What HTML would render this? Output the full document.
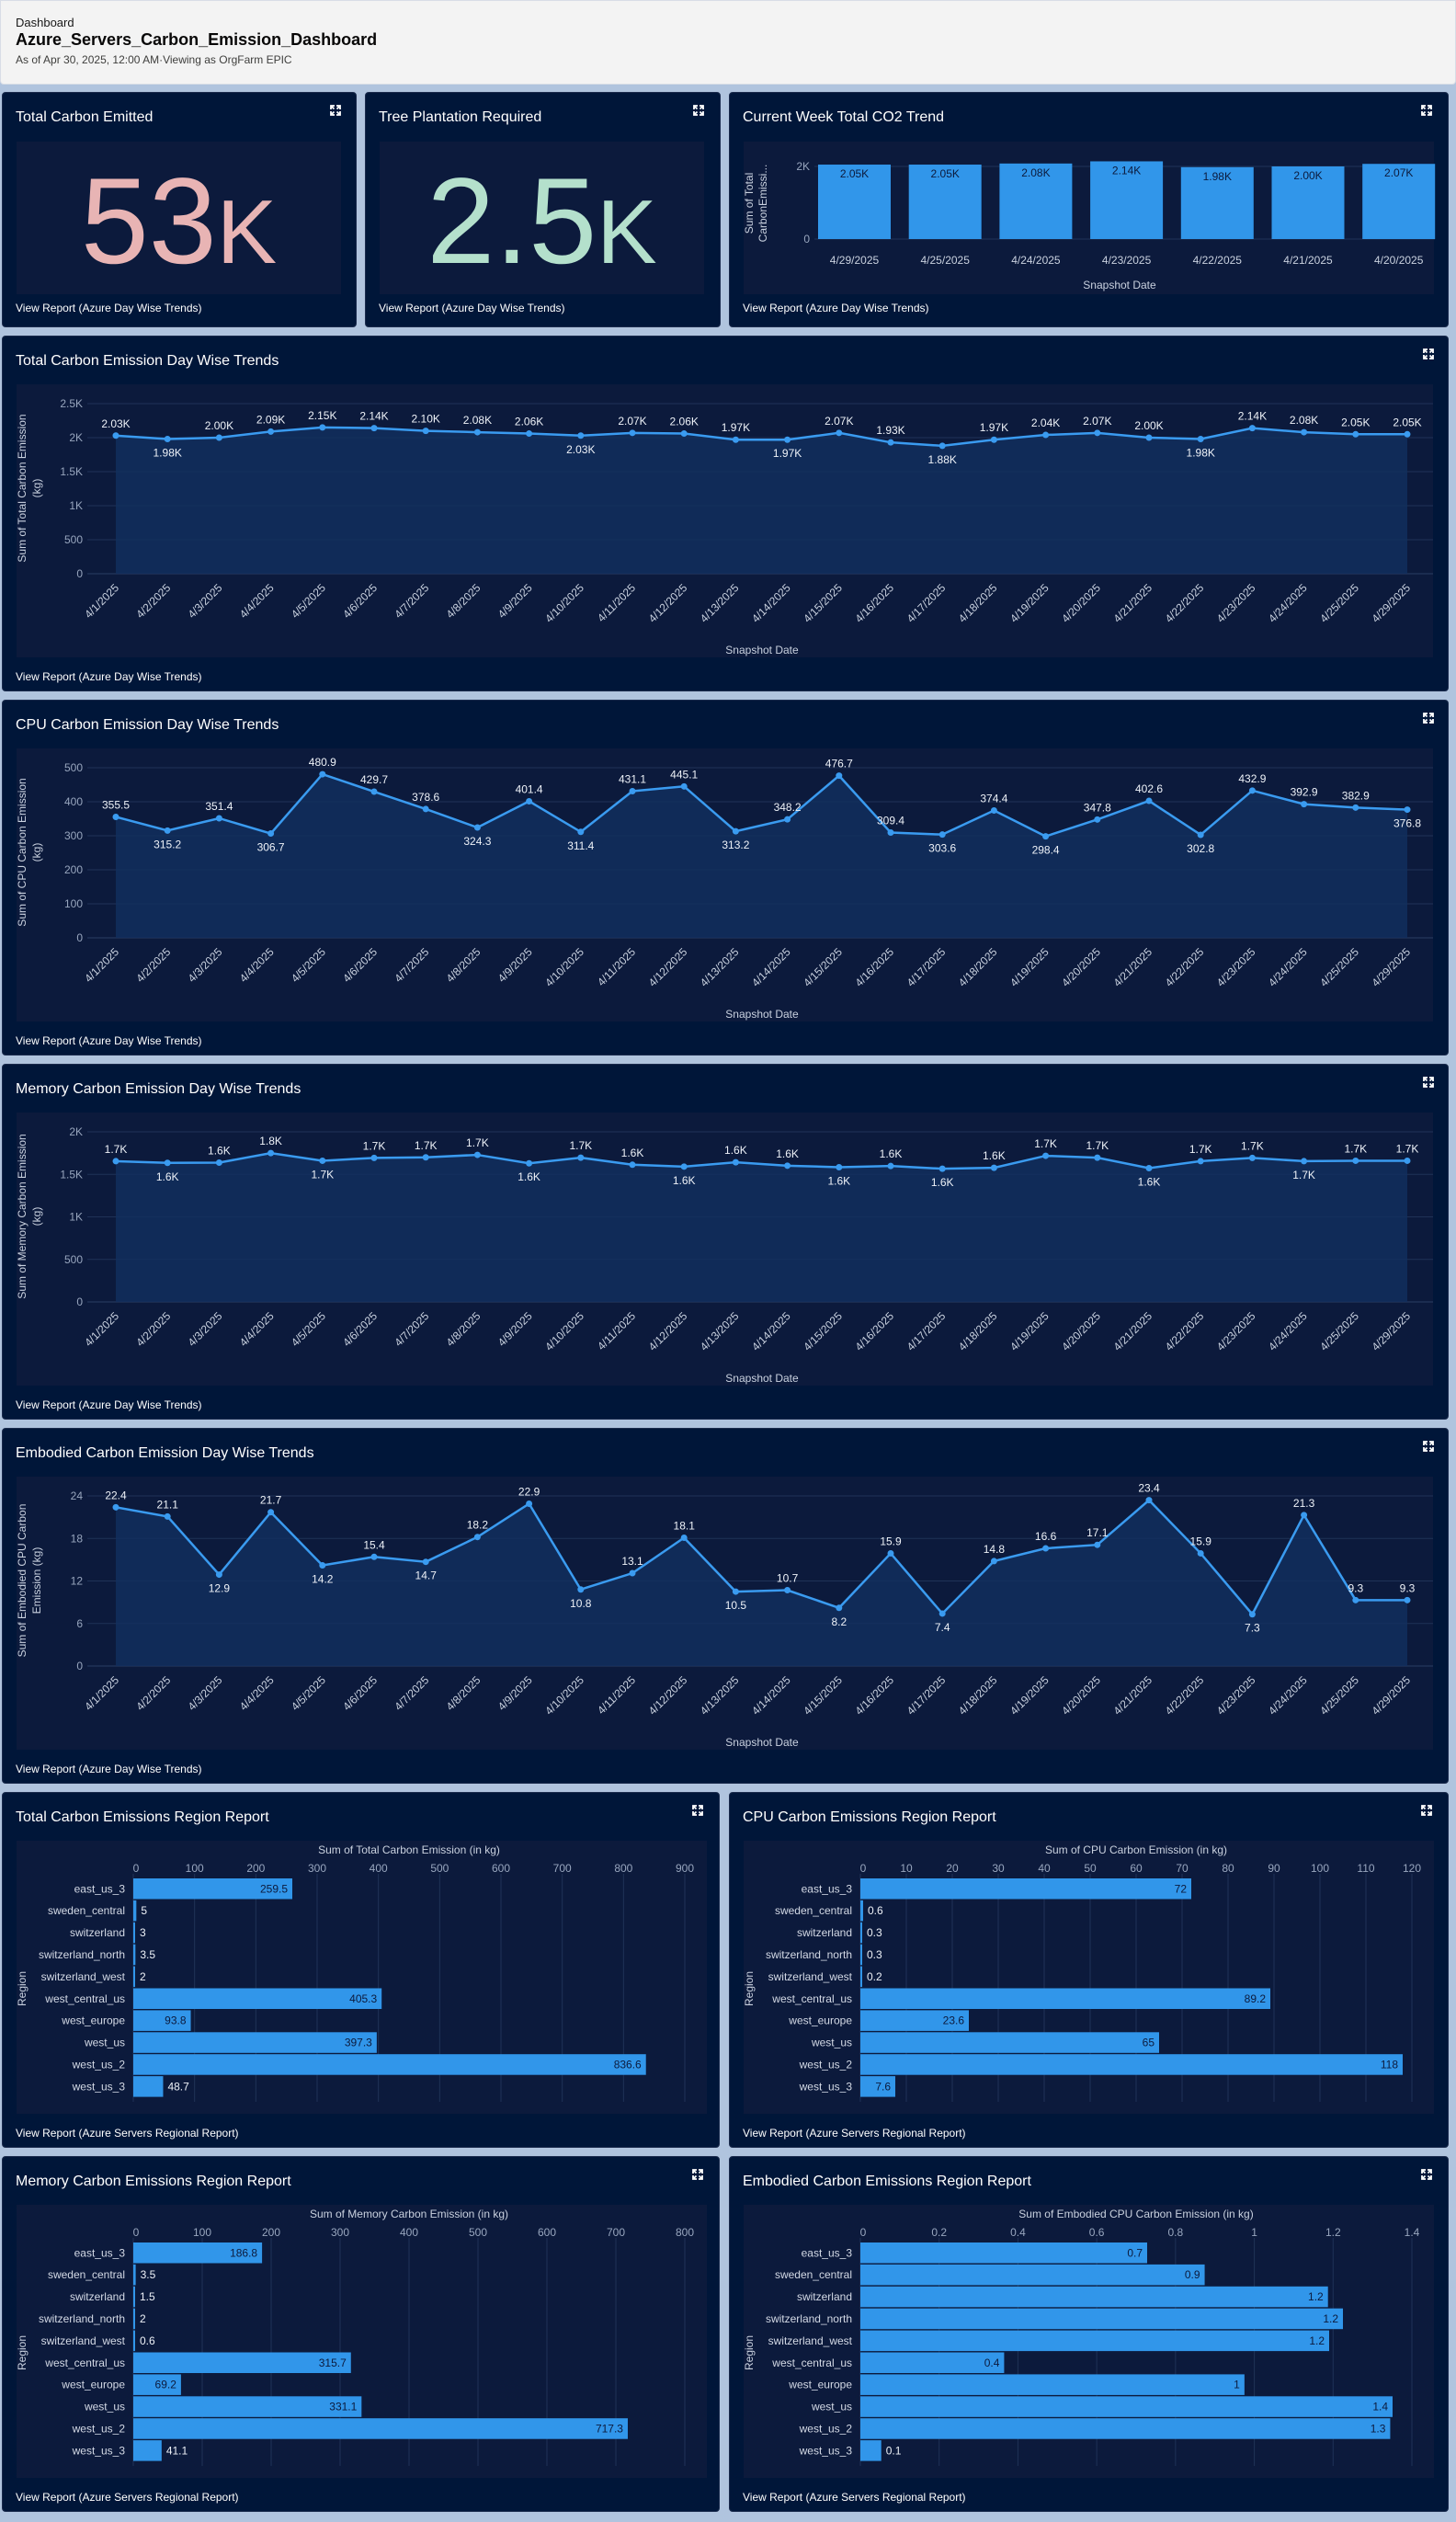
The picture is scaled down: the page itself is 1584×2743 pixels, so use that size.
<!DOCTYPE html>
<html><head><meta charset="utf-8"><title>Azure_Servers_Carbon_Emission_Dashboard</title>
<style>
*{box-sizing:border-box;margin:0;padding:0}
html,body{width:1584px;height:2743px;background:#b0c4de;font-family:"Liberation Sans",Arial,sans-serif;overflow:hidden;position:relative}
.header{position:absolute;left:0;top:0;width:1584px;height:92px;background:#f3f3f3;border:1px solid #d8dde6;border-radius:0 0 4px 4px}
.header .crumb{position:absolute;left:16px;top:16px;font-size:13px;color:#181818}
.header h1{position:absolute;left:16px;top:32px;font-size:18px;font-weight:bold;color:#080707}
.header .sub{position:absolute;left:16px;top:57px;font-size:12px;color:#3e3e3c}
.card{position:absolute;background:#001639;border-radius:4px;border:1px solid #1b2b4d}
.card .title{position:absolute;left:14px;top:18px;font-size:16px;color:#fff}
.card .report{position:absolute;left:14px;font-size:12px;color:#fff}
.card svg{position:absolute;left:0;top:0}
.panel{position:absolute;background:#0c1a3c}
.kpi{position:absolute;text-align:center;font-size:133px;line-height:1}
</style></head><body>
<div class="header">
  <div class="crumb">Dashboard</div>
  <h1>Azure_Servers_Carbon_Emission_Dashboard</h1>
  <div class="sub">As of Apr 30, 2025, 12:00 AM·Viewing as OrgFarm EPIC</div>
</div>

<div class="card" id="kpi1" style="left:2px;top:100px;width:386px;height:256px">
  <div class="title">Total Carbon Emitted</div>
  <div class="panel" style="left:15px;top:53px;width:353px;height:166px"></div>
  <div class="kpi" style="left:15px;top:74px;width:353px;color:#e8b4b4">53<span style="font-size:98px">K</span></div>
  <div class="report" style="top:227px">View Report (Azure Day Wise Trends)</div>
</div>
<div class="card" id="kpi2" style="left:397px;top:100px;width:387px;height:256px">
  <div class="title">Tree Plantation Required</div>
  <div class="panel" style="left:15px;top:53px;width:353px;height:166px"></div>
  <div class="kpi" style="left:15px;top:74px;width:353px;color:#b4e0cc">2.5<span style="font-size:98px">K</span></div>
  <div class="report" style="top:227px">View Report (Azure Day Wise Trends)</div>
</div>
<div class="card" id="week" style="left:793px;top:100px;width:783px;height:256px">
  <div class="title">Current Week Total CO2 Trend</div>
  <div class="panel" style="left:15px;top:53px;width:751px;height:166px"></div>
  <div class="report" style="top:227px">View Report (Azure Day Wise Trends)</div>
</div>

<div class="card" id="lineTotal" style="left:2px;top:365px;width:1574px;height:387px">
  <div class="title">Total Carbon Emission Day Wise Trends</div>
  <div class="panel" style="left:15px;top:52px;width:1541px;height:297px"></div>
  <div class="report" style="top:363px">View Report (Azure Day Wise Trends)</div>
</div>
<div class="card" id="lineCpu" style="left:2px;top:761px;width:1574px;height:387px">
  <div class="title">CPU Carbon Emission Day Wise Trends</div>
  <div class="panel" style="left:15px;top:52px;width:1541px;height:297px"></div>
  <div class="report" style="top:363px">View Report (Azure Day Wise Trends)</div>
</div>
<div class="card" id="lineMem" style="left:2px;top:1157px;width:1574px;height:387px">
  <div class="title">Memory Carbon Emission Day Wise Trends</div>
  <div class="panel" style="left:15px;top:52px;width:1541px;height:297px"></div>
  <div class="report" style="top:363px">View Report (Azure Day Wise Trends)</div>
</div>
<div class="card" id="lineEmb" style="left:2px;top:1553px;width:1574px;height:387px">
  <div class="title">Embodied Carbon Emission Day Wise Trends</div>
  <div class="panel" style="left:15px;top:52px;width:1541px;height:297px"></div>
  <div class="report" style="top:363px">View Report (Azure Day Wise Trends)</div>
</div>

<div class="card" id="regTotal" style="left:2px;top:1949px;width:781px;height:387px">
  <div class="title">Total Carbon Emissions Region Report</div>
  <div class="panel" style="left:15px;top:52px;width:751px;height:297px"></div>
  <div class="report" style="top:363px">View Report (Azure Servers Regional Report)</div>
</div>
<div class="card" id="regCpu" style="left:793px;top:1949px;width:783px;height:387px">
  <div class="title">CPU Carbon Emissions Region Report</div>
  <div class="panel" style="left:15px;top:52px;width:751px;height:297px"></div>
  <div class="report" style="top:363px">View Report (Azure Servers Regional Report)</div>
</div>
<div class="card" id="regMem" style="left:2px;top:2345px;width:781px;height:387px">
  <div class="title">Memory Carbon Emissions Region Report</div>
  <div class="panel" style="left:15px;top:52px;width:751px;height:297px"></div>
  <div class="report" style="top:363px">View Report (Azure Servers Regional Report)</div>
</div>
<div class="card" id="regEmb" style="left:793px;top:2345px;width:783px;height:387px">
  <div class="title">Embodied Carbon Emissions Region Report</div>
  <div class="panel" style="left:15px;top:52px;width:751px;height:297px"></div>
  <div class="report" style="top:363px">View Report (Azure Servers Regional Report)</div>
</div>

<script>
// ---------- data ----------
var weekDates = ["4/29/2025","4/25/2025","4/24/2025","4/23/2025","4/22/2025","4/21/2025","4/20/2025"];
var weekValues = [2050,2050,2080,2140,1980,2000,2070];
var weekTicks = ["0","2K"];

var dayDates = ["4/1/2025","4/2/2025","4/3/2025","4/4/2025","4/5/2025","4/6/2025","4/7/2025","4/8/2025","4/9/2025","4/10/2025","4/11/2025","4/12/2025","4/13/2025","4/14/2025","4/15/2025","4/16/2025","4/17/2025","4/18/2025","4/19/2025","4/20/2025","4/21/2025","4/22/2025","4/23/2025","4/24/2025","4/25/2025","4/29/2025"];
var totalValues = [2030,1980,2000,2090,2150,2140,2100,2080,2060,2030,2070,2060,1970,1970,2070,1930,1880,1970,2040,2070,2000,1980,2140,2080,2050,2050];
var totalTicks = ["0","500","1K","1.5K","2K","2.5K"];
var cpuValues = [355.5,315.2,351.4,306.7,480.9,429.7,378.6,324.3,401.4,311.4,431.1,445.1,313.2,348.2,476.7,309.4,303.6,374.4,298.4,347.8,402.6,302.8,432.9,392.9,382.9,376.8];
var cpuTicks = ["0","100","200","300","400","500"];
var memValues = [1655,1635,1638,1750,1660,1693,1700,1729,1630,1696,1613,1591,1642,1602,1584,1598,1566,1577,1718,1696,1573,1655,1693,1655,1660,1660];
var memTicks = ["0","500","1K","1.5K","2K"];
var embValues = [22.4,21.1,12.9,21.7,14.2,15.4,14.7,18.2,22.9,10.8,13.1,18.1,10.5,10.7,8.2,15.9,7.4,14.8,16.6,17.1,23.4,15.9,7.3,21.3,9.3,9.3];
var embTicks = ["0","6","12","18","24"];

var regions = ["east_us_3","sweden_central","switzerland","switzerland_north","switzerland_west","west_central_us","west_europe","west_us","west_us_2","west_us_3"];
var regTotalValues = [259.5,5,3,3.5,2,405.3,93.8,397.3,836.6,48.7];
var regTotalTicks = ["0","100","200","300","400","500","600","700","800","900"];
var regCpuValues = [72,0.6,0.3,0.3,0.2,89.2,23.6,65,118,7.6];
var regCpuTicks = ["0","10","20","30","40","50","60","70","80","90","100","110","120"];
var regMemValues = [186.8,3.5,1.5,2,0.6,315.7,69.2,331.1,717.3,41.1];
var regMemTicks = ["0","100","200","300","400","500","600","700","800"];
var regEmbValues = [0.728,0.874,1.187,1.225,1.19,0.365,0.975,1.351,1.345,0.053];
var regEmbTicks = ["0","0.2","0.4","0.6","0.8","1","1.2","1.4"];

// ---------- helpers ----------
var NS = "http://www.w3.org/2000/svg";
function mk(tag, parent){ var e = document.createElementNS(NS, tag); parent.appendChild(e); return e; }
function txt(parent, x, y, s, size, fill, anchor){
  var t = mk("text", parent);
  t.setAttribute("x", x); t.setAttribute("y", y);
  t.setAttribute("font-size", size); t.setAttribute("fill", fill);
  t.setAttribute("text-anchor", anchor || "start");
  t.setAttribute("font-family", "Liberation Sans, Arial, sans-serif");
  t.textContent = s;
  return t;
}
function svgFor(card){
  var s = mk("svg", card);
  s.setAttribute("width", card.offsetWidth); s.setAttribute("height", card.offsetHeight);
  
  
  return s;
}
function expandIcon(svg, x, y){
  var g = mk("g", svg);
  
  
  var p = mk("path", g);
  p.setAttribute("d", "M"+x+" "+(y+4)+"V"+y+"H"+(x+4)+" M"+(x+6)+" "+y+"H"+(x+10)+"V"+(y+4)+" M"+(x+10)+" "+(y+6)+"V"+(y+10)+"H"+(x+6)+" M"+(x+4)+" "+(y+10)+"H"+x+"V"+(y+6)+" M"+x+" "+y+"L"+(x+3.5)+" "+(y+3.5)+" M"+(x+10)+" "+y+"L"+(x+6.5)+" "+(y+3.5)+" M"+(x+10)+" "+(y+10)+"L"+(x+6.5)+" "+(y+6.5)+" M"+x+" "+(y+10)+"L"+(x+3.5)+" "+(y+6.5));
  p.setAttribute("stroke", "#fff"); p.setAttribute("stroke-width", "1.8"); p.setAttribute("fill", "none");
}
function fmtK(v, dec){ return (v/1000).toFixed(dec) + "K"; }

// ---------- line chart ----------
function lineChart(id, values, ticks, ymax, title1, title2, fmt){
  var card = document.getElementById(id);
  var svg = svgFor(card);
  expandIcon(svg, 1546, 14);
  var L = 92, R = 1556, yTop = 73, yZero = 258, x0 = 123, step = 56.2;
  function X(i){ return x0 + i*step; }
  function Y(v){ return yZero - v/ymax*(yZero-yTop); }
  var n = ticks.length;
  for (var k=0;k<n;k++){
    var gy = yZero - k/(n-1)*(yZero-yTop);
    var gl = mk("line", svg);
    gl.setAttribute("x1", L); gl.setAttribute("x2", R); gl.setAttribute("y1", gy); gl.setAttribute("y2", gy);
    gl.setAttribute("stroke", k==0 ? "#2a3d63" : "#1f3257"); gl.setAttribute("stroke-width", "1");
    
    
    var tl = txt(svg, 87, gy+4, ticks[k], 12, "#98a6be", "end");
    
    
  }
  var pts = values.map(function(v,i){ return X(i)+","+Y(v); });
  var area = mk("polygon", svg);
  area.setAttribute("points", X(0)+","+yZero+" "+pts.join(" ")+" "+X(values.length-1)+","+yZero);
  area.setAttribute("fill", "#12305f"); area.setAttribute("fill-opacity", "0.8");
  
  
  var line = mk("polyline", svg);
  line.setAttribute("points", pts.join(" "));
  line.setAttribute("fill", "none"); line.setAttribute("stroke", "#3a9bf0"); line.setAttribute("stroke-width", "2.5");
  
  
  values.forEach(function(v,i){
    var c = mk("circle", svg);
    c.setAttribute("cx", X(i)); c.setAttribute("cy", Y(v)); c.setAttribute("r", 3.5); c.setAttribute("fill", "#3a9bf0");
    
    
    var prev = i>0 ? values[i-1] : Infinity;
    var below;
    if (i === values.length-1) below = v < prev;
    else below = (v <= prev && v < values[i+1]);
    var lab = txt(svg, X(i), below ? Y(v)+19 : Y(v)-9, fmt(v), 12, "#eef2f8", "middle");
    
    
    var xl = txt(svg, 0, 0, dayDates[i], 12, "#c9d1df", "end");
    xl.setAttribute("transform", "translate("+(X(i)+4)+",274) rotate(-45)");
    
    
  });
  var xt = txt(svg, 826, 345, "Snapshot Date", 12, "#c9d1df", "middle");
  
  
  var yt = txt(svg, 0, 0, title1, 12, "#c9d1df", "middle");
  yt.setAttribute("transform", "translate(25,165) rotate(-90)");
  
  
  var yt2 = txt(svg, 0, 0, title2, 12, "#c9d1df", "middle");
  yt2.setAttribute("transform", "translate(41,165) rotate(-90)");
  
  
}

// ---------- horizontal bar chart ----------
function hbarChart(id, values, ticks, xmax, axisTitle){
  var card = document.getElementById(id);
  var svg = svgFor(card);
  expandIcon(svg, card.offsetWidth - 30, 14);
  var L = 142, R = 742, top = 93, band = 23.9, bh = 22.5;
  function X(v){ return L + v/xmax*(R-L); }
  var at = txt(svg, (L+R)/2, 66, axisTitle, 12, "#c9d1df", "middle");
  
  
  var n = ticks.length;
  for (var k=0;k<n;k++){
    var gx = L + k/(n-1)*(R-L);
    var gl = mk("line", svg);
    gl.setAttribute("x1", gx); gl.setAttribute("x2", gx); gl.setAttribute("y1", 88); gl.setAttribute("y2", top + band*regions.length + 4);
    gl.setAttribute("stroke", "#1f3257"); gl.setAttribute("stroke-width", "1");
    
    
    var tl = txt(svg, gx + (k==0?3:0), 86, ticks[k], 12, "#98a6be", "middle");
    
    
  }
  values.forEach(function(v,i){
    var y = top + i*band;
    var w = Math.max(X(v)-L, 2);
    var r = mk("rect", svg);
    r.setAttribute("x", L); r.setAttribute("y", y); r.setAttribute("width", w); r.setAttribute("height", bh);
    r.setAttribute("fill", "#3196ea");
    
    
    var s = String(parseFloat(v.toFixed(1)));
    var tw = s.length*7 + 10;
    var lab;
    if (w >= tw) lab = txt(svg, L+w-5, y+bh/2+4, s, 12, "#0c1a3c", "end");
    else lab = txt(svg, L+w+5, y+bh/2+4, s, 12, "#eef2f8", "start");
    
    
    var cl = txt(svg, 133, y+bh/2+4, regions[i], 12, "#d4dae6", "end");
    
    
  });
  var yt = txt(svg, 0, 0, "Region", 12, "#c9d1df", "middle");
  yt.setAttribute("transform", "translate(25,213) rotate(-90)");
  
  
}

// ---------- week bar chart ----------
(function(){
  var card = document.getElementById("week");
  var svg = svgFor(card);
  expandIcon(svg, 753, 14);
  var yTop = 80, yZero = 159, ymax = 2000, x0 = 96, pitch = 98.7, bw = 79;
  function Y(v){ return yZero - v/ymax*(yZero-yTop); }
  [0,2000].forEach(function(t,k){
    var gl = mk("line", svg);
    gl.setAttribute("x1", 92); gl.setAttribute("x2", 767); gl.setAttribute("y1", Y(t)); gl.setAttribute("y2", Y(t));
    gl.setAttribute("stroke", "#1f3257");
    
    
    var tl = txt(svg, 87, Y(t)+4, weekTicks[k], 12, "#98a6be", "end");
    
    
  });
  weekValues.forEach(function(v,i){
    var x = x0 + i*pitch;
    var r = mk("rect", svg);
    r.setAttribute("x", x); r.setAttribute("y", Y(v)); r.setAttribute("width", bw); r.setAttribute("height", yZero-Y(v));
    r.setAttribute("fill", "#3196ea");
    
    
    var lab = txt(svg, x+bw/2, Y(v)+14, fmtK(v,2), 12, "#0c1a3c", "middle");
    
    
    var xl = txt(svg, x+bw/2, 186, weekDates[i], 12, "#c9d1df", "middle");
    
    
  });
  var xt = txt(svg, 424, 213, "Snapshot Date", 12, "#c9d1df", "middle");
  
  
  var y1 = txt(svg, 0, 0, "Sum of Total", 12, "#c9d1df", "middle");
  y1.setAttribute("transform", "translate(25,120) rotate(-90)");
  
  
  var y2 = txt(svg, 0, 0, "CarbonEmissi...", 12, "#c9d1df", "middle");
  y2.setAttribute("transform", "translate(40,120) rotate(-90)");
  
  
})();

["kpi1","kpi2"].forEach(function(id){
  var card = document.getElementById(id);
  var svg = svgFor(card);
  expandIcon(svg, 357, 14);
});

lineChart("lineTotal", totalValues, totalTicks, 2500, "Sum of Total Carbon Emission", "(kg)", function(v){ return fmtK(v,2); });
lineChart("lineCpu", cpuValues, cpuTicks, 500, "Sum of CPU Carbon Emission", "(kg)", function(v){ return v.toFixed(1); });
lineChart("lineMem", memValues, memTicks, 2000, "Sum of Memory Carbon Emission", "(kg)", function(v){ return fmtK(v,1); });
lineChart("lineEmb", embValues, embTicks, 24, "Sum of Embodied CPU Carbon", "Emission (kg)", function(v){ return v.toFixed(1); });

hbarChart("regTotal", regTotalValues, regTotalTicks, 900, "Sum of Total Carbon Emission (in kg)");
hbarChart("regCpu", regCpuValues, regCpuTicks, 120, "Sum of CPU Carbon Emission (in kg)");
hbarChart("regMem", regMemValues, regMemTicks, 800, "Sum of Memory Carbon Emission (in kg)");
hbarChart("regEmb", regEmbValues, regEmbTicks, 1.4, "Sum of Embodied CPU Carbon Emission (in kg)");
</script>
</body></html>
